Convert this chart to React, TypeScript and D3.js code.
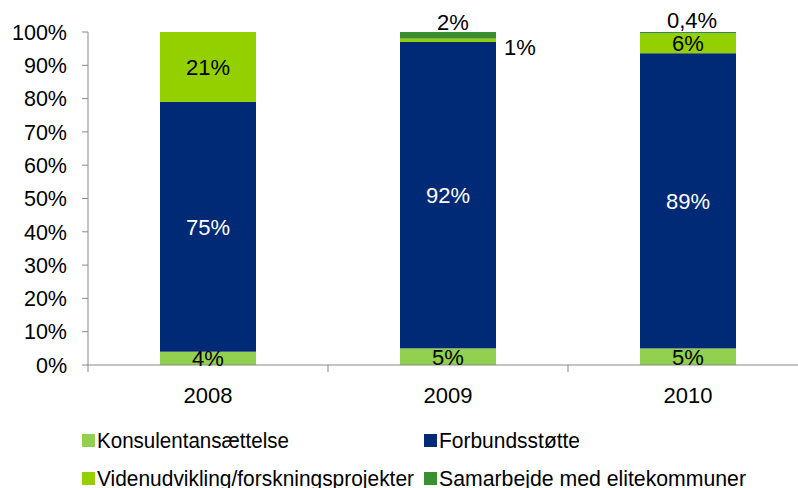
import React from "react";
import * as d3 from "d3";

const years = ["2008", "2009", "2010"];
const seriesNames = [
  "Konsulentansættelse",
  "Forbundsstøtte",
  "Videnudvikling/forskningsprojekter",
  "Samarbejde med elitekommuner",
];
const konsulent = [4, 5, 5];
const forbund = [75, 92, 89];
const viden = [21, 1, 6];
const samarbejde = [0, 2, 0.4];
const labelsKonsulent = ["4%", "5%", "5%"];
const labelsForbund = ["75%", "92%", "89%"];
const labelsViden = ["21%", "1%", "6%"];
const labelsSamarbejde = ["", "2%", "0,4%"];
const yTicks = [0, 0.1, 0.2, 0.3, 0.4, 0.5, 0.6, 0.7, 0.8, 0.9, 1];
const colors = ["#92D050", "#002A75", "#94D000", "#3A8F32"];

const W = 798, H = 488;
const left = 88, top = 32, bottom = 365;
const font = "'Liberation Sans', Arial, sans-serif";

export default function App() {
  const keys = ["k", "f", "v", "s"];
  const rows = years.map((y, i) => ({
    year: y,
    k: konsulent[i],
    f: forbund[i],
    v: viden[i],
    s: samarbejde[i],
  }));
  const stacked = d3.stack<any>().keys(keys).offset(d3.stackOffsetExpand)(rows);
  const x = d3.scaleBand().domain(years).range([left, left + 720]).paddingInner(0.6).paddingOuter(0.3);
  const xb = d3.scaleBand().domain(years).range([left, left + 720]);
  const y = d3.scaleLinear().domain([0, 1]).range([bottom, top]);
  const labels = [labelsKonsulent, labelsForbund, labelsViden, labelsSamarbejde];
  const fmt = d3.format(".0%");

  const legendItems = [
    { i: 0, x: 82, y: 434, tl: 192 },
    { i: 1, x: 424, y: 434, tl: 141 },
    { i: 2, x: 82, y: 472, tl: 317 },
    { i: 3, x: 424, y: 472, tl: 307 },
  ];

  return (
    <svg width={W} height={H} style={{ position: "absolute", left: 0, top: 0 }} fontFamily={font}>
      <rect width={W} height={H} fill="#fff" />
      {/* y axis */}
      <line x1={left} x2={left} y1={top} y2={bottom} stroke="#898989" strokeWidth={1} />
      {yTicks.map((t) => (
        <g key={t}>
          <line x1={left - 6} x2={left} y1={y(t)} y2={y(t)} stroke="#898989" />
          <text x={67} y={y(t)} dy="0.36em" textAnchor="end" fontSize={21.5} fill="#000">
            {fmt(t)}
          </text>
        </g>
      ))}
      {/* bars */}
      {stacked.map((s, si) =>
        s.map((d, di) => (
          <rect
            key={si + "-" + di}
            x={x(years[di])!}
            width={x.bandwidth()}
            y={y(d[1])}
            height={Math.max(0, y(d[0]) - y(d[1]))}
            fill={colors[si]}
          />
        ))
      )}
      {/* x axis */}
      <line x1={left} x2={W} y1={bottom} y2={bottom} stroke="#898989" />
      {years.map((yr) => (
        <line key={yr} x1={xb(yr)!} x2={xb(yr)!} y1={bottom} y2={bottom + 7} stroke="#898989" />
      ))}
      {years.map((yr) => (
        <text key={yr} x={x(yr)! + x.bandwidth() / 2} y={403} textAnchor="middle" fontSize={22}>
          {yr}
        </text>
      ))}
      {/* data labels */}
      {stacked.map((s, si) =>
        s.map((d, di) => {
          const lab = labels[si][di];
          if (!lab) return null;
          let cx = x(years[di])! + x.bandwidth() / 2;
          let cy = (y(d[0]) + y(d[1])) / 2;
          if (si === 2 && di === 1) {
            cx = x(years[di])! + x.bandwidth() + 24;
            cy = y(d[1]) + 8;
          }
          if (si === 3) {
            cx += di === 1 ? 5 : 4;
            cy = y(d[1]) - (di === 1 ? 10 : 12);
          }
          return (
            <text
              key={si + "l" + di}
              x={cx}
              y={cy}
              dy="0.36em"
              textAnchor="middle"
              fontSize={22}
              fill={si === 1 ? "#fff" : "#000"}
            >
              {lab}
            </text>
          );
        })
      )}
      {/* legend */}
      {legendItems.map((it) => (
        <g key={it.i}>
          <rect x={it.x} y={it.y} width={13} height={13} fill={colors[it.i]} />
          <text
            x={it.x + 15}
            y={it.y + 14}
            fontSize={21.5}
            textLength={it.tl}
            lengthAdjust="spacingAndGlyphs"
          >
            {seriesNames[it.i]}
          </text>
        </g>
      ))}
    </svg>
  );
}
